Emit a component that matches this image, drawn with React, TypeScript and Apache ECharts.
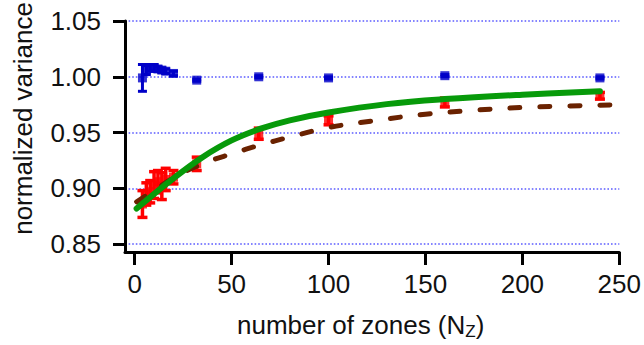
import React, { useEffect, useRef } from 'react';
import * as echarts from 'echarts';

// number of zones for measured points
const zones = [4, 6, 8, 10, 12, 14, 16, 20, 32, 64, 100, 160, 240];
// blue series (near 1.00)
const blueValues = [0.999, 1.006, 1.008, 1.008, 1.007, 1.006, 1.005, 1.003, 0.997, 1.0, 0.999, 1.001, 0.999];
const blueErrors = [0.012, 0.004, 0.003, 0.003, 0.002, 0.002, 0.002, 0.002, 0.001, 0.001, 0.001, 0.001, 0.001];
// red series (rising)
const redValues = [0.886, 0.895, 0.897, 0.903, 0.906, 0.902, 0.908, 0.910, 0.922, 0.949, 0.961, 0.977, 0.983];
const redErrors = [0.012, 0.010, 0.010, 0.012, 0.010, 0.012, 0.010, 0.006, 0.006, 0.005, 0.004, 0.004, 0.003];
// green solid curve
const greenX = [1, 20, 35, 50, 65, 80, 100, 130, 160, 200, 240];
const greenY = [0.882, 0.909, 0.928, 0.943, 0.9535, 0.961, 0.968, 0.9755, 0.980, 0.984, 0.987];
// brown dashed curve
const brownX = [1, 10, 20, 35, 50, 65, 80, 100, 125, 150, 175, 200, 250];
const brownY = [0.888, 0.898, 0.9095, 0.922, 0.931, 0.939, 0.946, 0.9545, 0.961, 0.9665, 0.970, 0.9725, 0.975];
// tick labels
const xTicks = [0, 50, 100, 150, 200, 250];
const yTicks = [0.85, 0.9, 0.95, 1.0, 1.05];

const FONT = '"Liberation Sans", Arial, Helvetica, sans-serif';

function errorBar(color: string, capW: number, lw: number) {
  return (params: any, api: any) => {
    const x = api.value(0);
    const lo = api.value(1);
    const hi = api.value(2);
    const top = api.coord([x, hi]);
    const bot = api.coord([x, lo]);
    const style = { stroke: color, lineWidth: lw };
    return {
      type: 'group',
      children: [
        { type: 'line', shape: { x1: top[0], y1: top[1], x2: bot[0], y2: bot[1] }, style },
        { type: 'line', shape: { x1: top[0] - capW / 2, y1: top[1], x2: top[0] + capW / 2, y2: top[1] }, style },
        { type: 'line', shape: { x1: bot[0] - capW / 2, y1: bot[1], x2: bot[0] + capW / 2, y2: bot[1] }, style },
      ],
    };
  };
}

export default function App() {
  const ref = useRef<HTMLDivElement>(null);
  useEffect(() => {
    if (!ref.current) return;
    const chart = echarts.init(ref.current, undefined, { renderer: 'svg' });
    const blue = '#0000c8';
    const red = '#ff0000';
    chart.setOption({
      animation: false,
      textStyle: { fontFamily: FONT },
      grid: { left: 125, right: 24, top: 21, bottom: 89, containLabel: false },
      xAxis: {
        type: 'value',
        min: -5,
        max: 250,
        axisLine: { show: true, onZero: false, lineStyle: { color: '#000', width: 3 } },
        axisTick: { show: true, customValues: xTicks, length: 13, lineStyle: { color: '#000', width: 3 } },
        axisLabel: { customValues: xTicks, margin: 19, fontSize: 26, color: '#111', fontFamily: FONT },
        splitLine: { show: false },
        name: 'number of zones (N{sub|Z})',
        nameLocation: 'middle',
        nameGap: 57,
        nameTextStyle: {
          fontSize: 26,
          color: '#111',
          fontFamily: FONT,
          padding: [0, 23, 0, 0],
          rich: { sub: { fontSize: 17, color: '#111', fontFamily: FONT, padding: [14, 0, 0, 0] } },
        },
      },
      yAxis: {
        type: 'value',
        min: 0.843,
        max: 1.05,
        axisLine: { show: true, onZero: false, lineStyle: { color: '#000', width: 3 } },
        axisTick: { show: true, customValues: yTicks, length: 12, lineStyle: { color: '#000', width: 3 } },
        axisLabel: {
          customValues: yTicks,
          margin: 24,
          fontSize: 26,
          color: '#111',
          fontFamily: FONT,
          formatter: (v: number) => v.toFixed(2),
        },
        splitLine: { show: true, lineStyle: { color: '#5c5cff', width: 1.6, type: [1.6, 2] } },
        name: 'normalized variance',
        nameLocation: 'middle',
        nameGap: 89,
        nameTextStyle: { fontSize: 26, color: '#111', fontFamily: FONT, padding: [0, 0, 0, 36] },
      },
      series: [
        {
          type: 'custom',
          name: 'red err',
          renderItem: errorBar(red, 10, 3.5),
          encode: { x: 0, y: [1, 2] },
          data: zones.map((x, i) => [x, redValues[i] - redErrors[i], redValues[i] + redErrors[i]]),
          z: 2,
        },
        {
          type: 'scatter',
          name: 'red',
          symbol: 'rect',
          symbolSize: 9,
          itemStyle: { color: red },
          data: zones.map((x, i) => [x, redValues[i]]),
          z: 2,
        },
        {
          type: 'line',
          name: 'brown',
          showSymbol: false,
          symbol: 'none',
          smooth: 0.4,
          lineStyle: { color: '#6a2200', width: 5, type: [10, 20], cap: 'round' },
          data: brownX.map((x, i) => [x, brownY[i]]),
          z: 3,
        },
        {
          type: 'line',
          name: 'green',
          showSymbol: false,
          symbol: 'none',
          smooth: 0.4,
          lineStyle: { color: '#079a0a', width: 6, cap: 'round' },
          data: greenX.map((x, i) => [x, greenY[i]]),
          z: 4,
        },
        {
          type: 'custom',
          name: 'blue err',
          renderItem: errorBar(blue, 9, 3),
          encode: { x: 0, y: [1, 2] },
          data: zones.map((x, i) => [x, blueValues[i] - blueErrors[i], blueValues[i] + blueErrors[i]]),
          z: 5,
        },
        {
          type: 'scatter',
          name: 'blue',
          symbol: 'rect',
          symbolSize: 9,
          itemStyle: { color: blue },
          data: zones.map((x, i) => [x, blueValues[i]]),
          z: 5,
        },
      ],
    });
    return () => chart.dispose();
  }, []);
  return (
    <div
      ref={ref}
      style={{ position: 'absolute', left: 0, top: 0, width: 644, height: 345, background: '#fff' }}
    />
  );
}
